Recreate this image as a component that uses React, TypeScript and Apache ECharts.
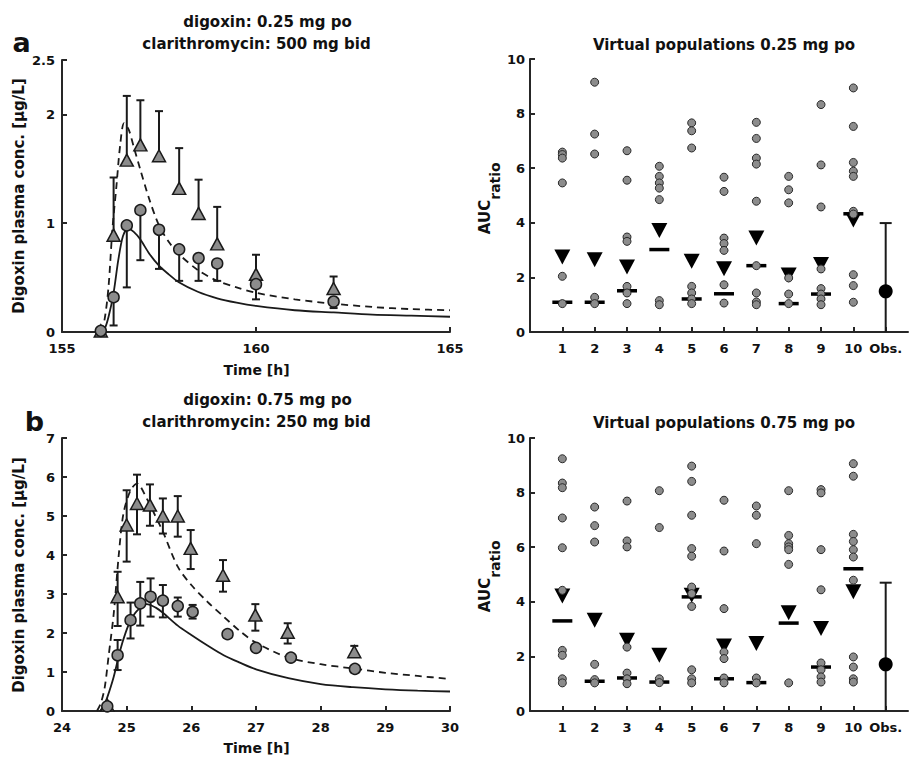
import React, { useEffect, useRef } from "react";
import * as echarts from "echarts";

const F = '"DejaVu Sans", sans-serif';
const INK = "#1a1a1a";
const AXIS = "#262626";
const GRAY = "#8c8c8c";

// ---------- Panel a (left): digoxin 0.25 mg po, clarithromycin 500 mg bid ----------
const aObsTime = [156.0, 156.33, 156.67, 157.02, 157.5, 158.02, 158.52, 159.0, 160.0, 162.0];
const aClariMean = [0.01, 0.89, 1.58, 1.72, 1.62, 1.32, 1.09, 0.81, 0.53, 0.4];
const aClariUpper = [null, 1.42, 2.17, 2.13, 2.03, 1.69, 1.4, 1.15, 0.71, 0.51];
const aCtrlMean = [0.01, 0.32, 0.98, 1.12, 0.94, 0.76, 0.68, 0.63, 0.44, 0.28];
const aCtrlLower = [null, 0.06, 0.41, 0.66, 0.58, 0.47, 0.47, 0.47, 0.3, 0.22];

const aSolidT = [156.0, 156.1, 156.2, 156.33, 156.45, 156.57, 156.7, 156.85, 157.02, 157.25, 157.5, 157.75, 158.0, 158.5, 159.0, 159.5, 160.0, 161.0, 162.0, 163.0, 164.0, 165.0];
const aSolidC = [0.0, 0.03, 0.14, 0.36, 0.66, 0.88, 0.95, 0.92, 0.85, 0.72, 0.61, 0.53, 0.46, 0.37, 0.31, 0.27, 0.24, 0.2, 0.18, 0.16, 0.15, 0.14];
const aDashT = [156.0, 156.1, 156.2, 156.3, 156.4, 156.5, 156.6, 156.72, 156.85, 157.02, 157.25, 157.5, 157.75, 158.0, 158.5, 159.0, 159.5, 160.0, 161.0, 162.0, 163.0, 164.0, 165.0];
const aDashC = [0.0, 0.12, 0.42, 0.95, 1.33, 1.72, 1.92, 1.86, 1.7, 1.49, 1.22, 0.98, 0.83, 0.72, 0.57, 0.47, 0.41, 0.36, 0.3, 0.26, 0.23, 0.21, 0.2];

// ---------- Panel b (left): digoxin 0.75 mg po, clarithromycin 250 mg bid ----------
const bTriTime = [24.7, 24.86, 25.0, 25.16, 25.36, 25.56, 25.79, 25.99, 26.49, 26.99, 27.49, 28.52];
const bClariMean = [0.15, 2.93, 4.77, 5.32, 5.28, 5.0, 5.0, 4.17, 3.48, 2.46, 2.02, 1.52];
const bClariUpper = [null, 3.57, 5.66, 6.06, 5.81, 5.45, 5.51, 4.64, 3.87, 2.74, 2.25, 1.67];
const bClariLower = [null, 2.18, 3.83, 4.53, 4.75, 4.55, 4.47, 3.64, 3.06, 2.06, 1.73, 1.39];
const bCircTime = [24.7, 24.86, 25.06, 25.21, 25.37, 25.56, 25.79, 26.02, 26.56, 27.0, 27.54, 28.53];
const bCtrlMean = [0.12, 1.43, 2.33, 2.76, 2.93, 2.83, 2.69, 2.54, 1.97, 1.62, 1.37, 1.08];
const bCtrlUpper = [null, 1.82, 2.78, 3.31, 3.4, 3.23, 2.91, 2.72, null, null, null, null];
const bCtrlLower = [null, 1.05, 1.86, 2.19, 2.42, 2.4, 2.42, 2.37, null, null, null, null];

const bSolidT = [24.59, 24.65, 24.7, 24.8, 24.9, 24.98, 25.06, 25.16, 25.31, 25.45, 25.56, 25.79, 26.0, 26.25, 26.5, 26.75, 27.0, 27.5, 28.0, 28.5, 29.0, 29.5, 30.0];
const bSolidC = [0.0, 0.15, 0.35, 0.88, 1.56, 1.99, 2.32, 2.57, 2.74, 2.65, 2.52, 2.19, 1.95, 1.68, 1.43, 1.24, 1.07, 0.84, 0.69, 0.61, 0.555, 0.52, 0.5];
const bDashT = [24.54, 24.6, 24.66, 24.72, 24.8, 24.88, 24.95, 25.06, 25.16, 25.31, 25.45, 25.56, 25.79, 26.0, 26.25, 26.5, 26.75, 27.0, 27.5, 28.0, 28.5, 29.0, 29.5, 30.0];
const bDashC = [0.0, 0.2, 0.6, 1.4, 2.5, 4.04, 5.06, 5.66, 5.83, 5.45, 4.98, 4.6, 3.7, 3.23, 2.8, 2.42, 2.05, 1.75, 1.37, 1.2, 1.09, 0.98, 0.9, 0.82];

// ---------- Virtual populations (right panels) ----------
const popLabels = ["1", "2", "3", "4", "5", "6", "7", "8", "9", "10", "Obs."];

const aucA = [
  [6.59, 6.5, 6.37, 5.46, 2.04, 1.04],
  [9.15, 7.25, 6.52, 1.27, 1.04],
  [6.64, 5.56, 3.48, 3.32, 1.67, 1.43, 1.04],
  [6.07, 5.7, 5.46, 5.27, 4.85, 1.15, 1.0],
  [7.66, 7.37, 6.74, 1.67, 1.43, 1.21, 1.04],
  [5.67, 5.15, 3.44, 3.24, 2.99, 1.73, 1.06],
  [7.68, 7.09, 6.37, 6.15, 4.79, 2.43, 1.43, 1.1, 1.0],
  [5.7, 5.21, 4.73, 1.98, 1.39, 1.04],
  [8.33, 6.12, 4.58, 2.31, 1.59, 1.39, 1.21, 1.0],
  [8.94, 7.53, 6.21, 5.89, 5.7, 4.42, 4.32, 2.1, 1.7, 1.09],
];
const aucAMean = [2.75, 2.65, 2.38, 3.72, 2.59, 2.32, 3.44, 2.09, 2.47, 4.1];
const aucAMedian = [1.09, 1.09, 1.51, 3.02, 1.21, 1.4, 2.43, 1.04, 1.39, 4.33];
const aucAObs = 1.49;
const aucAObsUpper = 3.99;

const aucB = [
  [9.24, 8.35, 8.18, 7.07, 5.98, 4.42, 2.22, 2.04, 1.18, 1.03],
  [7.47, 6.79, 6.19, 1.71, 1.15, 1.03],
  [7.69, 6.23, 6.01, 2.34, 1.39, 1.18, 1.0],
  [8.07, 6.72, 1.18, 1.04],
  [8.97, 8.41, 7.17, 5.95, 5.67, 4.54, 4.3, 3.83, 1.51, 1.18, 1.03],
  [7.72, 5.86, 3.75, 2.16, 1.92, 1.21, 1.03],
  [7.51, 7.17, 6.13, 1.21, 1.03],
  [8.07, 6.43, 6.13, 6.01, 5.91, 5.37, 1.03],
  [8.11, 7.99, 5.91, 4.44, 1.76, 1.51, 1.25, 1.06],
  [9.06, 8.6, 6.47, 6.21, 5.91, 5.64, 4.79, 1.98, 1.61, 1.18, 1.06],
];
const aucBMean = [4.21, 3.32, 2.59, 2.04, 4.24, 2.38, 2.47, 3.6, 3.02, 4.37];
const aucBMedian = [3.3, 1.09, 1.21, 1.06, 4.18, 1.18, 1.04, 3.22, 1.61, 5.21];
const aucBObs = 1.71;
const aucBObsUpper = 4.7;

// ---------- helpers ----------
const zip = (xs: number[], ys: (number | null)[]) => xs.map((x, i) => [x, ys[i]]);

const barData = (xs: number[], base: number[], ends: (number | null)[]) =>
  xs.map((x, i) => [x, base[i], ends[i]]).filter((d) => d[2] !== null);

function errSeries(idx: number, data: any[], cap: number) {
  return {
    type: "custom",
    xAxisIndex: idx,
    yAxisIndex: idx,
    z: 3,
    silent: true,
    encode: { x: 0, y: [1, 2] },
    renderItem: (_p: any, api: any) => {
      const x = api.value(0);
      const p0 = api.coord([x, api.value(1)]);
      const p1 = api.coord([x, api.value(2)]);
      return {
        type: "group",
        children: [
          { type: "line", shape: { x1: p0[0], y1: p0[1], x2: p1[0], y2: p1[1] }, style: { stroke: INK, lineWidth: 2 } },
          { type: "line", shape: { x1: p1[0] - cap / 2, y1: p1[1], x2: p1[0] + cap / 2, y2: p1[1] }, style: { stroke: INK, lineWidth: 2 } },
        ],
      };
    },
    data,
  };
}

function curve(idx: number, xs: number[], ys: number[], dashed: boolean) {
  return {
    type: "line",
    xAxisIndex: idx,
    yAxisIndex: idx,
    z: 2,
    data: zip(xs, ys),
    showSymbol: false,
    symbol: "none",
    smooth: 0.3,
    silent: true,
    lineStyle: { color: INK, width: 1.8, type: dashed ? [7, 5] : "solid" },
  };
}

function markers(idx: number, xs: number[], ys: number[], symbol: string, size: any) {
  return {
    type: "scatter",
    xAxisIndex: idx,
    yAxisIndex: idx,
    z: 5,
    symbol,
    symbolSize: size,
    silent: true,
    data: zip(xs, ys),
    itemStyle: { color: GRAY, borderColor: INK, borderWidth: 1.5, opacity: 1 },
  };
}

function popSeries(idx: number, ind: number[][], mean: number[], median: number[], obs: number, obsUp: number) {
  const dots: number[][] = [];
  ind.forEach((arr, i) => arr.forEach((v) => dots.push([i + 1, v])));
  return [
    {
      type: "scatter", xAxisIndex: idx, yAxisIndex: idx, z: 3, silent: true,
      symbol: "rect", symbolSize: [20, 3.5],
      data: median.map((v, i) => [i + 1, v]),
      itemStyle: { color: "#000", opacity: 1 },
    },
    {
      type: "scatter", xAxisIndex: idx, yAxisIndex: idx, z: 4, silent: true,
      symbol: "triangle", symbolRotate: 180, symbolSize: [16, 15],
      data: mean.map((v, i) => [i + 1, v]),
      itemStyle: { color: "#000", opacity: 1 },
    },
    {
      type: "scatter", xAxisIndex: idx, yAxisIndex: idx, z: 6, silent: true,
      symbol: "circle", symbolSize: 8,
      data: dots,
      itemStyle: { color: GRAY, borderColor: "#2a2a2a", borderWidth: 1, opacity: 1 },
    },
    errSeries(idx, [[11, 0, obsUp]], 12),
    {
      type: "scatter", xAxisIndex: idx, yAxisIndex: idx, z: 7, silent: true,
      symbol: "circle", symbolSize: 14,
      data: [[11, obs]],
      itemStyle: { color: "#000", opacity: 1 },
    },
  ];
}

const axisLine = { show: true, onZero: false, lineStyle: { color: AXIS, width: 2 } };
const axisTick = { show: true, inside: true, length: 5, lineStyle: { color: AXIS, width: 2 } };
const label = (margin: number) => ({
  color: "#111",
  fontFamily: F,
  fontWeight: "bold",
  fontSize: 13,
  margin,
});

function valueX(gridIndex: number, min: number, max: number, interval: number) {
  return {
    type: "value", gridIndex, min, max, interval,
    axisLine, axisTick, axisLabel: label(10), splitLine: { show: false },
  };
}
function popX(gridIndex: number) {
  const vals = [1, 2, 3, 4, 5, 6, 7, 8, 9, 10, 11];
  return {
    type: "value", gridIndex, min: 0, max: 11.69, interval: 1,
    axisLine,
    axisTick: { ...axisTick, customValues: vals },
    axisLabel: {
      ...label(10),
      customValues: vals,
      formatter: (v: number) => (v >= 1 && v <= 11 ? popLabels[Math.round(v) - 1] : ""),
    },
    splitLine: { show: false },
  };
}
function valueY(gridIndex: number, min: number, max: number, interval: number, margin: number) {
  return {
    type: "value", gridIndex, min, max, interval,
    axisLine, axisTick, axisLabel: label(margin), splitLine: { show: false },
  };
}

function txt(text: string, x: number, y: number, size: number, rotate = false, align = "center") {
  return {
    type: "text",
    x, y,
    rotation: rotate ? Math.PI / 2 : 0,
    silent: true,
    style: {
      text,
      fill: "#111",
      font: `bold ${size}px ${F}`,
      align, textAlign: align,
      verticalAlign: "middle", textVerticalAlign: "middle",
    },
  };
}

export default function App() {
  const ref = useRef<HTMLDivElement>(null);
  useEffect(() => {
    if (!ref.current) return;
    const chart = echarts.init(ref.current, null, { renderer: "svg" });
    const grids = [
      { left: 62, top: 60, width: 388, height: 272 },
      { left: 530, top: 59, width: 378, height: 273 },
      { left: 62, top: 438, width: 388, height: 273 },
      { left: 530, top: 438, width: 378, height: 273 },
    ].map((g) => ({ ...g, containLabel: false, outerBoundsMode: "none" }));

    const option: any = {
      animation: false,
      backgroundColor: "#ffffff",
      grid: grids,
      xAxis: [valueX(0, 155, 165, 5), popX(1), valueX(2, 24, 30, 1), popX(3)],
      yAxis: [valueY(0, 0, 2.5, 1, 7), valueY(1, 0, 10, 2, 5), valueY(2, 0, 7, 1, 7), valueY(3, 0, 10, 2, 5)],
      series: [
        // panel a
        curve(0, aSolidT, aSolidC, false),
        curve(0, aDashT, aDashC, true),
        errSeries(0, barData(aObsTime, aClariMean, aClariUpper), 8),
        errSeries(0, barData(aObsTime, aCtrlMean, aCtrlLower), 8),
        markers(0, aObsTime, aClariMean, "triangle", [13, 12]),
        markers(0, aObsTime, aCtrlMean, "circle", 11),
        // panel b
        curve(2, bSolidT, bSolidC, false),
        curve(2, bDashT, bDashC, true),
        errSeries(2, barData(bTriTime, bClariMean, bClariUpper), 8),
        errSeries(2, barData(bTriTime, bClariMean, bClariLower), 8),
        errSeries(2, barData(bCircTime, bCtrlMean, bCtrlUpper), 8),
        errSeries(2, barData(bCircTime, bCtrlMean, bCtrlLower), 8),
        markers(2, bTriTime, bClariMean, "triangle", [13, 12]),
        markers(2, bCircTime, bCtrlMean, "circle", 11),
        // right panels
        ...popSeries(1, aucA, aucAMean, aucAMedian, aucAObs, aucAObsUpper),
        ...popSeries(3, aucB, aucBMean, aucBMedian, aucBObs, aucBObsUpper),
      ],
      graphic: [
        txt("a", 21.5, 42.7, 27),
        txt("b", 34.5, 421.7, 27),
        txt("digoxin: 0.25 mg po", 267.5, 22, 15),
        txt("clarithromycin: 500 mg bid", 256.5, 43.5, 15),
        txt("digoxin: 0.75 mg po", 267.5, 400, 15),
        txt("clarithromycin: 250 mg bid", 256.5, 421.5, 15),
        txt("Virtual populations 0.25 mg po", 724, 45.4, 15),
        txt("Virtual populations 0.75 mg po", 724, 423, 15),
        txt("Digoxin plasma conc. [µg/L]", 19, 196, 15, true),
        txt("Digoxin plasma conc. [µg/L]", 19, 575, 15, true),
        txt("Time [h]", 256.5, 370, 14),
        txt("Time [h]", 256.5, 748, 14),
        txt("AUC", 485, 217, 15, true),
        txt("ratio", 495, 181, 14, true),
        txt("AUC", 485, 595, 15, true),
        txt("ratio", 495, 559, 14, true),
      ],
    };
    chart.setOption(option);
    return () => chart.dispose();
  }, []);
  return (
    <div
      ref={ref}
      style={{ position: "absolute", left: 0, top: 0, width: 909, height: 760, background: "#fff" }}
    />
  );
}
